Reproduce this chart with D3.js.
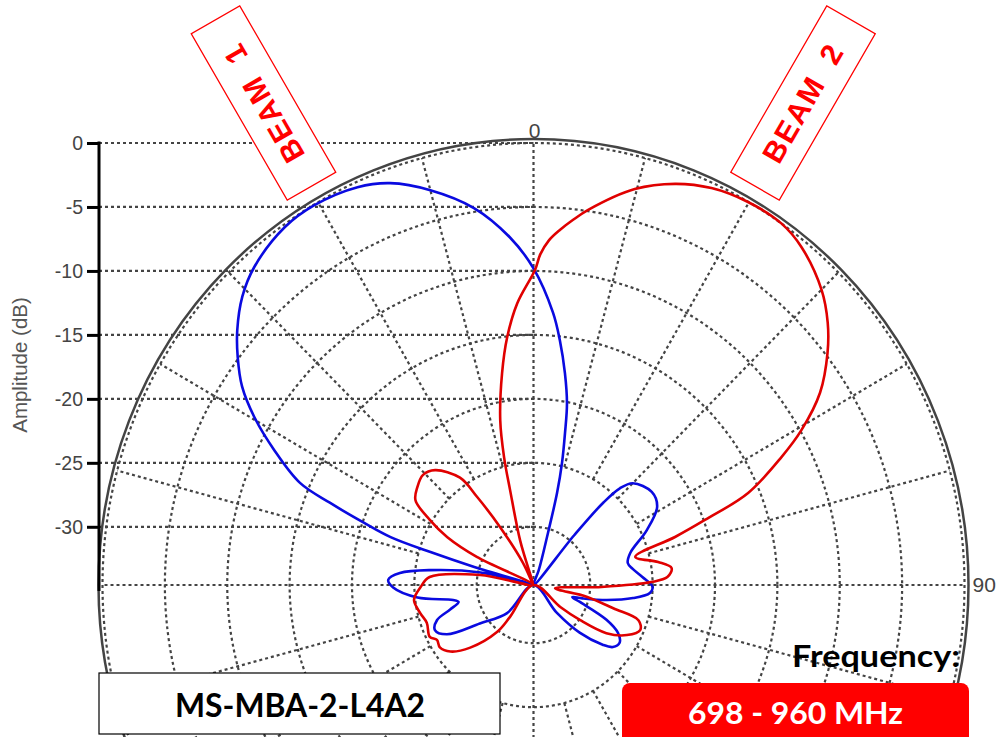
<!DOCTYPE html>
<html><head><meta charset="utf-8">
<script src="https://cdn.jsdelivr.net/npm/d3@7"></script>
<style>body{margin:0;background:#fff;overflow:hidden}svg{display:block}</style>
</head><body>
<svg id="c" width="999" height="737"></svg>
<script>
// ---------- data ----------
const ampTicks = [0, -5, -10, -15, -20, -25, -30];
const angleTickLabels = ["0", "90"];
const angleTickValues = [0, 90];
const gridAngles = [0,15,30,45,60,75,90,105,120,135,150,165,180,195,210,225,240,255,270,285,300,315,330,345];
const beamLabels = ["BEAM 1", "BEAM 2"];
const modelName = "MS-MBA-2-L4A2";
const freqTitle = "Frequency:";
const freqRange = "698 - 960 MHz";

// [angle (deg, clockwise from top), amplitude (dB)]
const beam1 = [
  [-136,-31.5],[-125,-29.3],[-119,-26.6],[-114,-25.9],[-109.5,-26.35],[-106,-27.6],[-102.5,-28.4],[-100.3,-28.0],
  [-96,-25.2],[-91,-23.3],[-88,-22.9],[-85,-23.8],[-82,-26.2],[-77,-30.2],[-75,-38],[-73.5,-29.6],[-72.7,-25.9],
  [-71.9,-22.5],[-70.3,-20.1],[-68.5,-17.0],[-66.9,-14.2],[-63.1,-11.25],[-59.6,-8.6],[-56.4,-6.5],[-53.1,-4.9],
  [-50,-3.55],[-46,-2.1],[-42,-1.1],[-35.5,-0.2],[-30.6,-0.05],[-24.4,-0.4],[-20.1,-1.1],[-15,-2.6],[-9.2,-4.7],
  [-4,-7.3],[0,-9.8],[4.2,-13.2],[6.3,-15.3],[8.65,-17.8],[10.7,-20.1],[12,-22.4],[13.45,-24.7],[14.7,-27.1],
  [15.9,-30.3],[20,-33.3],[32,-38],[40,-29.5],[41,-26],[42.5,-24.3],[45,-23.3],[52.5,-22.6],[58.3,-22.9],
  [64.7,-24.5],[72.1,-26.4],[77.2,-26.8],[81,-26.5],[85.9,-25.8],[90.9,-25.0],[93.8,-25.2],[97.3,-26.5],
  [101.3,-28.55],[105,-30.5],[106.9,-31.3],[109.6,-30.6],[114.9,-28.1],[119,-26.8],[123.2,-26.3],[127.3,-26.55],
  [130.1,-27.3],[135.2,-29.3],[139.3,-31.7],[180,-40]
];
const beam2 = [
  [-143,-31.4],[-141.5,-29.85],[-134,-27.5],[-128,-26.1],[-123,-25.6],[-119,-25.7],[-116,-25.3],[-109,-25.5],
  [-103.5,-25.2],[-97,-24.9],[-91,-25.5],[-85.7,-26.2],[-79.7,-30.2],[-70,-38],[-64.2,-29.5],[-61.6,-26.7],
  [-58.5,-24.8],[-55,-23.0],[-50.6,-22.5],[-45.8,-22.2],[-41.3,-22.6],[-35.1,-24.3],[-33.3,-26.3],[-30.6,-29.3],
  [-26,-32.6],[-21,-38],[-17.5,-33.5],[-17.1,-30.9],[-14.2,-26.9],[-13.3,-24.3],[-11.7,-21.4],[-8.65,-17.8],
  [-6.2,-15.05],[-3.4,-12.5],[0.3,-9.9],[1.2,-8.7],[2.6,-7.6],[4.4,-6.7],[6.3,-5.85],[8.5,-4.9],[14.7,-2.55],
  [19.9,-1.2],[24.7,-0.4],
  [29.8,-0.03],[35.1,0],[39.1,-0.5],[45,-1.9],[49,-3.3],[52.4,-4.8],[56.8,-7.1],[60.6,-9.9],[63.3,-12.3],
  [67.3,-15.9],[69.7,-19.9],[71.7,-22.6],[74.9,-26.1],[79.8,-24.4],[83.2,-23.4],[86.7,-23.8],[88.6,-25.1],
  [91.6,-29.1],[98.5,-32.8],[102.1,-30.2],[105.9,-27.9],[108.1,-25.7],[112.4,-25.3],[117.6,-26.1],[122.8,-27.6],
  [126.3,-29.9],[128.6,-31.8],[180,-40]
];

// ---------- layout ----------
const svg = d3.select("#c");
const cx = 533.5, cy = 585, Rx = 431, Ry = 442;
const dbMin = -34.55;
const rScale = d3.scaleLinear().domain([dbMin, 0]).range([0, 1]).clamp(true);
const xS = d3.scaleLinear().domain([-1, 1]).range([cx - Rx, cx + Rx]);
const yS = d3.scaleLinear().domain([-1, 1]).range([cy + Ry, cy - Ry]);
const px = (a, r) => xS(r * Math.sin(a * Math.PI / 180));
const py = (a, r) => yS(r * Math.cos(a * Math.PI / 180));
const grid = "#444";
const dotted = sel => sel.attr("stroke", grid).attr("stroke-width", 2.2).attr("stroke-dasharray", "3,3").attr("fill", "none");

const gGrid = svg.append("g");
const axisX = 99;
const yAmp = d3.scaleLinear().domain([dbMin, 0]).range([cy, cy - Ry]);
gGrid.selectAll("line.h").data(ampTicks).join("line")
  .attr("x1", axisX).attr("x2", cx).attr("y1", d => yAmp(d)).attr("y2", d => yAmp(d)).call(dotted);
gGrid.selectAll("ellipse.ring").data(ampTicks).join("ellipse")
  .attr("cx", cx).attr("cy", cy)
  .attr("rx", d => xS(rScale(d)) - cx).attr("ry", d => cy - yS(rScale(d))).call(dotted);
gGrid.selectAll("line.s").data(gridAngles).join("line")
  .attr("x1", d => px(d, d % 90 === 0 ? 0 : rScale(-25)))
  .attr("y1", d => py(d, d % 90 === 0 ? 0 : rScale(-25)))
  .attr("x2", d => px(d, 1)).attr("y2", d => py(d, 1)).call(dotted);
svg.append("ellipse").attr("cx", cx).attr("cy", cy).attr("rx", Rx + 4).attr("ry", Ry + 4)
  .attr("fill", "none").attr("stroke", "#444").attr("stroke-width", 2.5);

// left amplitude axis
const ax = svg.append("g").attr("transform", `translate(${axisX},0)`)
  .call(d3.axisLeft(yAmp).tickValues(ampTicks).tickSize(12).tickPadding(4).tickFormat(d => String(d)));
ax.select(".domain").remove();
ax.selectAll(".tick line").attr("stroke", "#000").attr("stroke-width", 3);
ax.selectAll(".tick text").attr("font-family", "Liberation Sans, Arial, sans-serif").attr("font-size", 19.5).attr("fill", "#444");
svg.append("line").attr("x1", axisX).attr("x2", axisX).attr("y1", yAmp(0) - 1.5).attr("y2", cy + 6)
  .attr("stroke", "#000").attr("stroke-width", 3);
svg.append("text").attr("transform", `translate(22,${(yAmp(0) + cy) / 2 + 1}) rotate(-90)`)
  .attr("text-anchor", "middle").attr("dominant-baseline", "middle")
  .attr("font-family", "Liberation Sans, Arial, sans-serif").attr("font-size", 20.5).attr("fill", "#555")
  .text("Amplitude (dB)");

// angle labels
svg.append("text").attr("x", px(angleTickValues[0], 1) + 1).attr("y", py(angleTickValues[0], 1) - 5)
  .attr("text-anchor", "middle").attr("font-family", "Liberation Sans, Arial, sans-serif")
  .attr("font-size", 21).attr("fill", "#444").text(angleTickLabels[0]);
svg.append("text").attr("x", px(angleTickValues[1], 1) + 8).attr("y", py(angleTickValues[1], 1) + 7)
  .attr("text-anchor", "start").attr("font-family", "Liberation Sans, Arial, sans-serif")
  .attr("font-size", 21).attr("fill", "#444").text(angleTickLabels[1]);

// beams
const line = d3.line()
  .x(d => px(d[0], rScale(d[1])))
  .y(d => py(d[0], rScale(d[1])))
  .curve(d3.curveCatmullRomClosed.alpha(0.5));
svg.append("path").attr("d", line(beam1)).attr("fill", "none").attr("stroke", "#0a0ae0").attr("stroke-width", 2.6).attr("stroke-linejoin", "round");
svg.append("path").attr("d", line(beam2)).attr("fill", "none").attr("stroke", "#e00000").attr("stroke-width", 2.6).attr("stroke-linejoin", "round");

// beam label boxes
const boxes = [{t: beamLabels[0], x: 263.5, y: 103, rot: 60, flip: true}, {t: beamLabels[1], x: 803, y: 103, rot: -60, flip: false}];
boxes.forEach(b => {
  const g = svg.append("g").attr("transform", `translate(${b.x},${b.y}) rotate(${b.rot})`);
  g.append("rect").attr("x", -96).attr("y", -28).attr("width", 192).attr("height", 56)
    .attr("fill", "#fff").attr("stroke", "#ff0000").attr("stroke-width", 1.3);
  g.append("text").attr("transform", b.flip ? "rotate(180)" : null)
    .attr("text-anchor", "middle").attr("dominant-baseline", "central")
    .attr("font-family", "Liberation Sans, Arial, sans-serif").attr("font-weight", "bold")
    .attr("font-size", 30).attr("fill", "#ff0000").attr("letter-spacing", 1.5)
    .attr("xml:space", "preserve").text(b.t.replace(" ", "  "));
});

// model box
svg.append("rect").attr("x", 99).attr("y", 673).attr("width", 401).attr("height", 61)
  .attr("fill", "#fff").attr("stroke", "#000").attr("stroke-width", 1.2);
svg.append("text").attr("x", 300).attr("y", 717).attr("text-anchor", "middle")
  .attr("font-family", "Lato, 'Open Sans', sans-serif").attr("font-weight", "bold").attr("font-size", 32)
  .attr("textLength", 250).attr("lengthAdjust", "spacingAndGlyphs").attr("fill", "#000").text(modelName);

// frequency
svg.append("text").attr("x", 960).attr("y", 667).attr("text-anchor", "end")
  .attr("font-family", "Lato, 'Open Sans', sans-serif").attr("font-weight", "bold").attr("font-size", 31)
  .attr("textLength", 168).attr("lengthAdjust", "spacingAndGlyphs").attr("fill", "#000").text(freqTitle);
svg.append("rect").attr("x", 622).attr("y", 683).attr("width", 347).attr("height", 70).attr("rx", 8)
  .attr("fill", "#ff0000");
svg.append("text").attr("x", 795.5).attr("y", 724).attr("text-anchor", "middle")
  .attr("font-family", "Lato, 'Open Sans', sans-serif").attr("font-weight", "bold").attr("font-size", 31)
  .attr("textLength", 215).attr("lengthAdjust", "spacingAndGlyphs").attr("fill", "#fff").text(freqRange);
</script>
</body></html>
